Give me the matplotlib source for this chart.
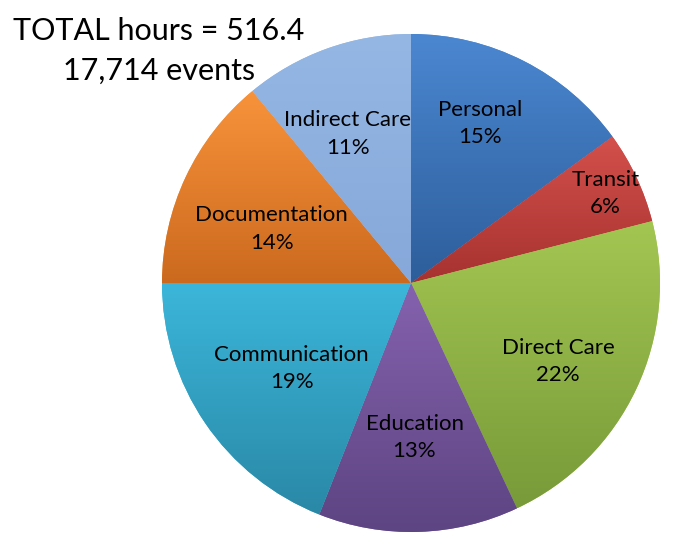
import matplotlib.pyplot as plt
import numpy as np
from matplotlib.colors import LinearSegmentedColormap

plt.rcParams['font.family'] = ['Lato', 'DejaVu Sans']

categories = ['Personal', 'Transit', 'Direct Care', 'Education',
              'Communication', 'Documentation', 'Indirect Care']
shares = [15, 6, 22, 13, 19, 14, 11]
total_hours = 516.4
n_events = 17714

# light (top) / dark (bottom) colour of each slice's gradient
top_colors = ['#4b87d1', '#d4504c', '#a3c652', '#8562ae', '#3bb6da', '#f8933b', '#95b7e4']
bottom_colors = ['#2d5e9b', '#a6322f', '#789a39', '#5d4482', '#2a88a6', '#cb691e', '#86a8da']
# label placement: radius (fraction of pie radius) and shift from slice middle (deg)
label_radius = [0.70, 0.86, 0.67, 0.62, 0.59, 0.60, 0.65]
label_shift = [3.5, -0.5, -3.0, -0.5, 1.5, 4.0, 3.2]

fig = plt.figure(figsize=(6.75, 5.47), dpi=100)
R = 249
cx, cy = 411, 283
ax = fig.add_axes([(cx - R) / 675, (547 - cy - R) / 547, 2 * R / 675, 2 * R / 547])

wedges, _ = ax.pie(shares, startangle=90, counterclock=False,
                   colors=top_colors, wedgeprops=dict(linewidth=0))

for w, c1, c2, name, pct, rl, sh in zip(wedges, top_colors, bottom_colors,
                                          categories, shares, label_radius, label_shift):
    t = np.radians(np.linspace(w.theta1, w.theta2, 60))
    xs = np.concatenate([[0], np.cos(t)])
    ys = np.concatenate([[0], np.sin(t)])
    cmap = LinearSegmentedColormap.from_list('g', [c1, c2])
    grad = np.linspace(0, 1, 256).reshape(-1, 1)
    im = ax.imshow(grad, cmap=cmap, aspect='auto', origin='upper',
                   extent=[xs.min(), xs.max(), ys.min(), ys.max()], zorder=2)
    im.set_clip_path(w)
    mid = np.radians((w.theta1 + w.theta2) / 2 + sh)
    ax.text(rl * np.cos(mid), rl * np.sin(mid), f'{name}\n{pct}%',
            ha='center', va='center', fontsize=16, linespacing=1.45,
            color='black', zorder=5)

ax.set_xlim(-1, 1)
ax.set_ylim(-1, 1)
ax.set_aspect('equal')
ax.axis('off')

fig.text(159 / 675, 1 - 51 / 547, f'TOTAL hours = {total_hours}\n{n_events:,} events',
         ha='center', va='center', fontsize=22, linespacing=1.5)

fig.savefig('out.png', dpi=100)
